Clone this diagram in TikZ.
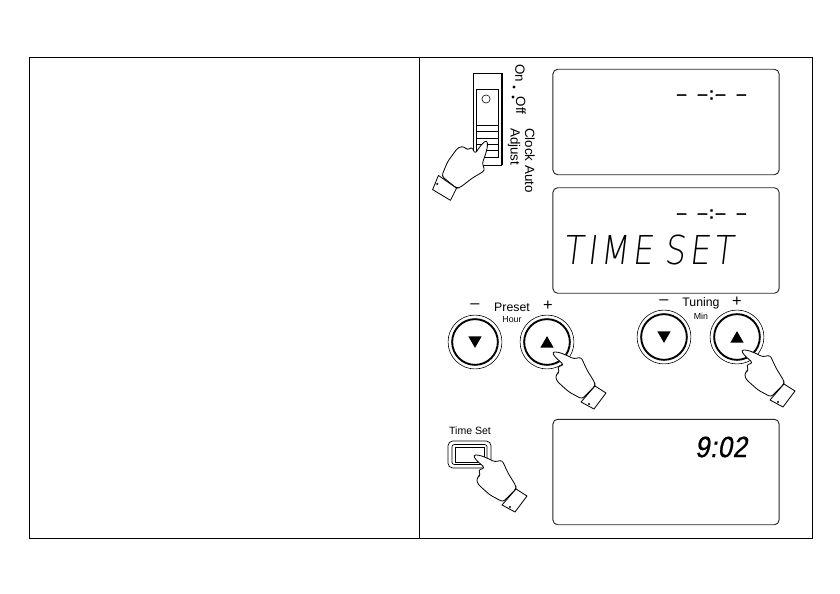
\documentclass[tikz,border=0pt]{standalone}
\usepackage{fontspec}
\setmainfont{Liberation Sans}
\newfontfamily\lcdfont[FakeSlant=0.12,FakeStretch=0.82,LetterSpace=9.5]{DejaVu Sans ExtraLight}
\newfontfamily\clockfont[FakeSlant=0.18,FakeStretch=0.88,FakeBold=0.8,LetterSpace=2]{Liberation Sans}
\newfontfamily\dashfont[FakeBold=3.2]{Liberation Sans}
\usetikzlibrary{positioning,shapes.geometric}
\newcommand{\lcdblank}{\textendash\hspace{10pt}\textendash\hspace{1.9pt}:\hspace{1.9pt}\textendash\hspace{10pt}\textendash}
\tikzset{
  frame/.style  ={draw=black, line width=0.7pt},
  lcd/.style    ={draw=black!85, line width=0.8pt, rounded corners=4pt, minimum width=193pt,
                  minimum height=90pt, inner sep=0pt},
  btn/.style    ={circle, draw=black, line width=0.5pt, minimum size=46pt, inner sep=0pt},
  btnring/.style={circle, draw=black, line width=1.6pt, minimum size=39pt, inner sep=0pt},
  % triangles inside the round buttons
  arrowup/.style  ={regular polygon, regular polygon sides=3, fill=black, inner sep=0pt,
                    minimum size=13pt, yshift=-1.5pt},
  arrowdown/.style={arrowup, shape border rotate=180, yshift=3pt},
  lbl/.style    ={font=\fontsize{10.5}{12}\selectfont, inner sep=0pt},
  signlbl/.style={font=\fontsize{14}{16}\selectfont, inner sep=0pt},
  sublbl/.style ={font=\fontsize{7.5}{9}\selectfont, inner sep=0pt},
  sidelbl/.style={font=\fontsize{11.4}{13}\selectfont, inner sep=0pt, rotate=-90},
  lcdtime/.style={font=\dashfont\fontsize{14}{16}\selectfont, inner sep=0pt},
  handline/.style={draw=black, fill=white, line width=0.7pt, rounded corners=2.4pt, line join=round},
  hand/.pic={
    \draw[handline] (43,34) -- (30,47) -- (17,40) -- (8,32) -- (4,28) -- (4,22) -- (8,20)
      -- (5,15) -- (12,13) -- (3,5) -- (0,0) -- (6,0) -- (14,3) -- (22,7) -- (29,5)
      -- (35,18) -- (43,31) -- cycle;
    \draw[handline, rounded corners=0pt] (43,34) -- (54,41) -- (42,57) -- (29,50) -- cycle;
    \fill (37,52) circle (1.1);
  },
}

\begin{document}
\begin{tikzpicture}[x=0.03cm, y=-0.03cm]
    \useasboundingbox (0,0) rectangle (840,594);
    % page frame
    \node[frame, rectangle, minimum width=668.4pt, minimum height=410.6pt, inner sep=0pt] (page) at (420.5,297.5) {};
    \coordinate (divtop) at (419,57);
    \coordinate (divbot) at (419,538);
    \draw[frame] (divtop) -- (divbot);
    % displays
    \node[lcd] (lcdA) at (666,122) {};
    \node[lcd] (lcdB) at (666,240.5) {};
    \node[lcd] (lcdC) at (666,472) {};
    \node[lcdtime] (blankA) at (711.5,95) {\lcdblank};
    \node[lcdtime] (blankB) at (711.5,214) {\lcdblank};
    \node[inner sep=0pt, font=\lcdfont\fontsize{34}{36}\selectfont] (timeset) at (648.5,250) {TIME\hspace{10pt}SET};
    \node[inner sep=0pt, font=\clockfont\fontsize{25}{28}\selectfont] (clock) at (721,447) {9:02};
    % slide switch
    \node[draw=black, line width=0.8pt, minimum width=24.6pt, minimum height=78.5pt, inner sep=0pt] (switch) at (487.5,119) {};
    \draw[line width=1.5pt] (switch.north east) -- (switch.south east);
    \node[draw=black, line width=0.5pt, minimum width=18.8pt, minimum height=58pt, inner sep=0pt] (slider) at (487,123) {};
    \node[circle, draw=black, line width=0.5pt, minimum size=7pt, inner sep=0pt] (knob) at (486,99) {};
    \foreach \ly in {125,131,138,144,150}
      \draw[line width=0.5pt] (476,\ly) -- (498,\ly);
    \node[sidelbl] (on) at (520,73.5) {On};
    \node[sidelbl] (off) at (521,105.5) {Off};
    \fill (514,87) circle (1.6);
    \fill (513,97) circle (1.6);
    \node[sidelbl, anchor=west] (auto) at (530,128) {Clock Auto};
    \node[sidelbl, anchor=west] (adjust) at (514,128) {Adjust};
    % preset buttons
    \node[btn] (pdown) at (475,342) {};
    \node[btnring] (pdownr) at (pdown) {};
    \node[arrowdown] (pdowna) at (pdown) {};
    \node[btn] (pup) at (547,342) {};
    \node[btnring] (pupr) at (pup) {};
    \node[arrowup] (pupa) at (pup) {};
    \node[signlbl] (pminus) at (475,306) {--};
    \node[lbl] (preset) at (512,307) {Preset};
    \node[signlbl] (pplus) at (548,306) {+};
    \node[sublbl] (hour) at (512,320) {Hour};
    % tuning buttons
    \node[btn] (tdown) at (664,337) {};
    \node[btnring] (tdownr) at (tdown) {};
    \node[arrowdown] (tdowna) at (tdown) {};
    \node[btn] (tup) at (737,337) {};
    \node[btnring] (tupr) at (tup) {};
    \node[arrowup] (tupa) at (tup) {};
    \node[signlbl] (tminus) at (664,302) {--};
    \node[lbl] (tuning) at (701,303) {Tuning};
    \node[signlbl] (tplus) at (737,302) {+};
    \node[sublbl] (minute) at (701,316) {Min};
    % time set button
    \node[font=\fontsize{9}{11}\selectfont, inner sep=0pt] (tslabel) at (470,431) {Time Set};
    \node[draw=black, line width=0.6pt, rounded corners=4pt, minimum width=36.7pt, minimum height=23pt, inner sep=0pt] (tsbtn) at (469.5,454.5) {};
    \node[draw=black, line width=0.6pt, rounded corners=2pt, minimum width=30pt, minimum height=17pt, inner sep=0pt] (tsmid) at (tsbtn) {};
    \node[draw=black, line width=0.8pt, minimum width=24.8pt, minimum height=12.8pt, inner sep=0pt] (tsin) at (tsbtn) {};
    % pressing hands
    \pic at (487,140) [rotate=-84, scale=1.04] {hand};
    \pic at (552,352) {hand};
    \pic at (741,350) {hand};
    \pic at (473,455) {hand};
\end{tikzpicture}
\end{document}
